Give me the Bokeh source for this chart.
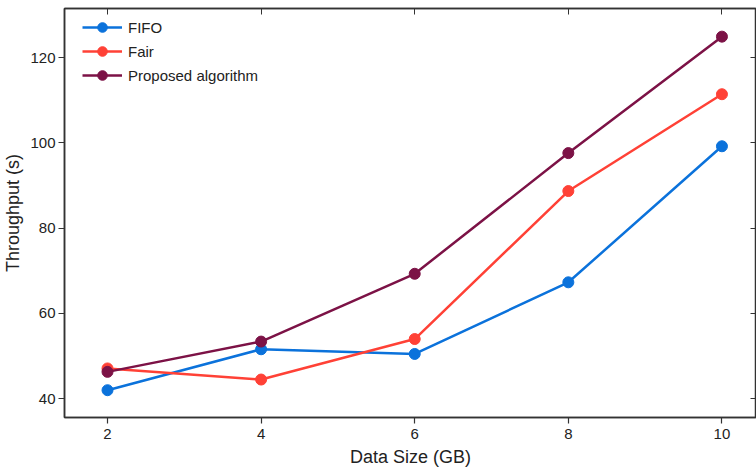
from bokeh.plotting import figure
from bokeh.models import Range1d, LinearAxis, FixedTicker, Legend, LegendItem
from bokeh.embed import file_html
from bokeh.resources import INLINE

data_size = [2, 4, 6, 8, 10]
fifo = [42.0, 51.6, 50.5, 67.3, 99.2]
fair = [47.1, 44.5, 54.0, 88.7, 111.4]
proposed = [46.3, 53.4, 69.3, 97.6, 124.9]
x_ticks = [2, 4, 6, 8, 10]
y_ticks = [40, 60, 80, 100, 120]

series = [("FIFO", fifo, "#0b72db"), ("Fair", fair, "#ff4136"), ("Proposed algorithm", proposed, "#7c1246")]

FONT = "Liberation Sans"

p = figure(width=756, height=469, output_backend="svg", toolbar_location=None,
           x_range=Range1d(1.44, 10.45), y_range=Range1d(35.6, 131.5),
           min_border_left=8, min_border_right=0, min_border_top=8, min_border_bottom=10)
p.xgrid.visible = False
p.ygrid.visible = False
p.outline_line_color = "#333333"
p.outline_line_width = 1.5
p.background_fill_color = "white"

items = []
for name, vals, col in series:
    r1 = p.line(data_size, vals, line_color=col, line_width=2.5)
    r2 = p.scatter(data_size, vals, size=11, fill_color=col, line_color=col)
    items.append(LegendItem(label=name, renderers=[r1, r2]))

for ax in [p.xaxis[0], p.yaxis[0]]:
    ax.axis_line_color = "#333333"
    ax.axis_line_width = 1.5
    ax.major_tick_line_color = "#333333"
    ax.major_tick_line_width = 1.2
    ax.major_tick_in = 0
    ax.major_tick_out = 6
    ax.minor_tick_line_color = None
    ax.major_label_text_font = FONT
    ax.major_label_text_font_size = "15px"
    ax.major_label_text_color = "#222222"
    ax.axis_label_text_font = FONT
    ax.axis_label_text_font_size = "18px"
    ax.axis_label_text_font_style = "normal"
    ax.axis_label_text_color = "#222222"

p.xaxis[0].ticker = FixedTicker(ticks=x_ticks)
p.yaxis[0].ticker = FixedTicker(ticks=y_ticks)
p.xaxis[0].axis_label = "Data Size (GB)"
p.yaxis[0].axis_label = "Throughput (s)"
p.xaxis[0].major_label_standoff = 5
p.yaxis[0].major_label_standoff = 3
p.xaxis[0].axis_label_standoff = 5
p.yaxis[0].axis_label_standoff = 4

top = LinearAxis(ticker=FixedTicker(ticks=x_ticks),
                 major_label_overrides={t: "" for t in x_ticks},
                 major_tick_in=6, major_tick_out=0, minor_tick_line_color=None,
                 axis_line_color="#333333", axis_line_width=1.5, major_tick_line_color="#333333",
                 major_label_standoff=0)
p.add_layout(top, "above")
right = LinearAxis(ticker=FixedTicker(ticks=y_ticks),
                   major_label_overrides={t: "" for t in y_ticks},
                   major_tick_in=6, major_tick_out=0, minor_tick_line_color=None,
                   axis_line_color="#333333", axis_line_width=1.5, major_tick_line_color="#333333",
                   major_label_standoff=0)
p.add_layout(right, "right")

legend = Legend(items=items, location=(18, 330), border_line_color=None,
                background_fill_alpha=0, padding=0, margin=0, spacing=0,
                glyph_width=40, glyph_height=24, label_height=24, label_standoff=6,
                label_text_font=FONT, label_text_font_size="15px", label_text_color="#222222")
p.add_layout(legend, "center")

open("out.html", "w").write(file_html(p, INLINE))
